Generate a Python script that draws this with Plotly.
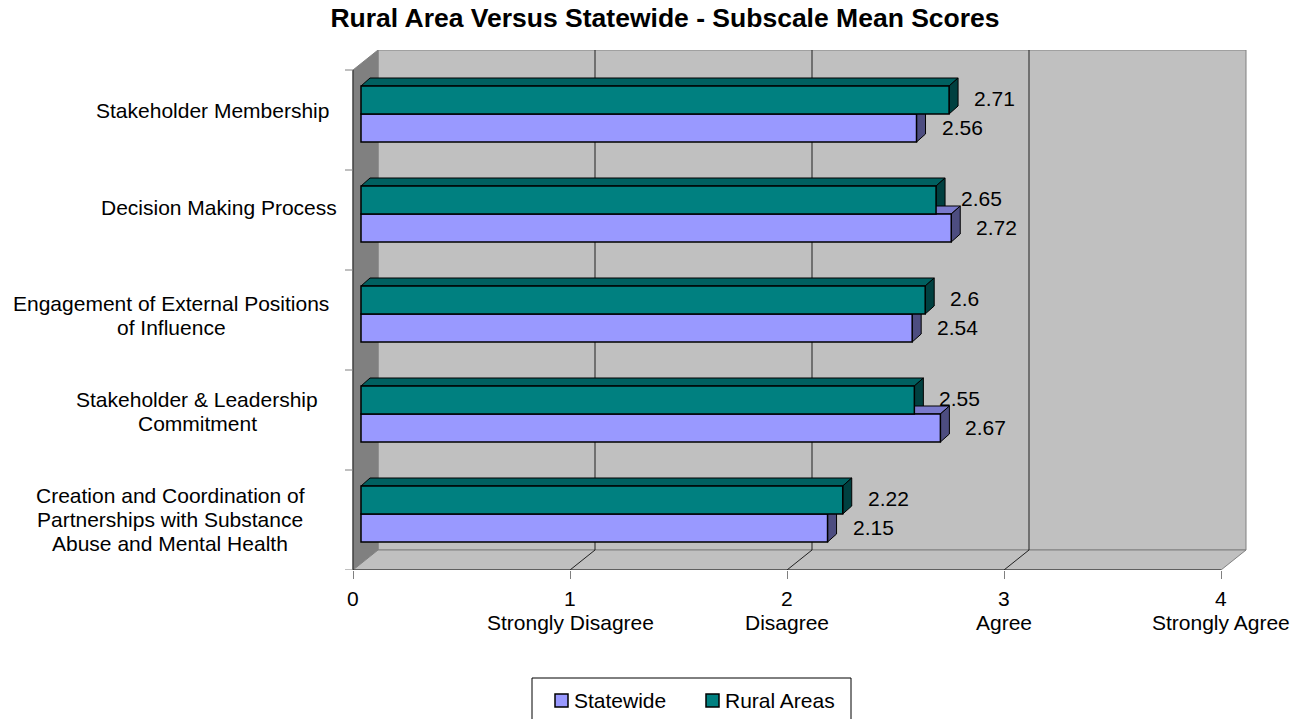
import plotly.graph_objects as go

# ---- data -------------------------------------------------------------
categories = [
    "Stakeholder Membership",
    "Decision Making Process",
    "Engagement of External Positions<br>of Influence",
    "Stakeholder & Leadership<br>Commitment",
    "Creation and Coordination of<br>Partnerships with Substance<br>Abuse and Mental Health",
]
statewide = [2.56, 2.72, 2.54, 2.67, 2.15]
rural_areas = [2.71, 2.65, 2.60, 2.55, 2.22]
scale_values = [0, 1, 2, 3, 4]
scale_labels = ["", "Strongly Disagree", "Disagree", "Agree", "Strongly Agree"]
series_names = ["Statewide", "Rural Areas"]

# ---- layout geometry (pixels of the 1297x719 page) ---------------------
W, H = 1297, 719
X0, U = 361.0, 217.0     # pixel of value 0 on the bar plane, pixels per unit
Y0, V = 114.0, 100.0     # pixel of the first category centre, pixels per category
FRONT_X, BACK_X = 353.0, 378.0
FRONT_Y, BACK_Y = 570.0, 550.0
TOP_BACK, TOP_FRONT = 50.0, 70.0
PLOT_L, PLOT_R = 339.0, 1275.0
BAR_W = 0.28
BAR_DX, BAR_DY = 9.0 / U, 8.0 / V

FONT = "Liberation Sans, Arial, sans-serif"
TEAL, TEAL_TOP, TEAL_SIDE = "#008080", "#006060", "#004040"
LILAC, LILAC_TOP, LILAC_SIDE = "#9999FF", "#7A7ACC", "#4D4D80"


def X(px):
    return (px - X0) / U


def Y(py):
    return (py - Y0) / V


def PX(px):
    """page pixel -> paper x"""
    return (px - PLOT_L) / (PLOT_R - PLOT_L)


def PY(py):
    """page pixel -> paper y"""
    return (FRONT_Y - py) / (FRONT_Y - TOP_BACK)


def path_px(points):
    return "M " + " L ".join(f"{X(a):.5f},{Y(b):.5f}" for a, b in points) + " Z"


def path_data(points):
    return "M " + " L ".join(f"{a:.5f},{b:.5f}" for a, b in points) + " Z"


shapes = []


def add_path(path, fill, line="#808080", width=1):
    shapes.append(dict(type="path", path=path, xref="x", yref="y", layer="below",
                       fillcolor=fill, line=dict(color=line, width=width)))


def add_line(p0, p1, color, width=1):
    shapes.append(dict(type="line", xref="x", yref="y", layer="below",
                       x0=X(p0[0]), y0=Y(p0[1]), x1=X(p1[0]), y1=Y(p1[1]),
                       line=dict(color=color, width=width)))


n_max = scale_values[-1]
back_right = BACK_X + U * n_max
front_right = FRONT_X + U * n_max

# back wall, side wall and floor of the 3-D box
add_path(path_px([(BACK_X, TOP_BACK), (back_right, TOP_BACK),
                  (back_right, BACK_Y), (BACK_X, BACK_Y)]), "#C0C0C0")
add_path(path_px([(FRONT_X, TOP_FRONT), (BACK_X, TOP_BACK),
                  (BACK_X, BACK_Y), (FRONT_X, FRONT_Y)]), "#808080")
add_path(path_px([(FRONT_X, FRONT_Y), (BACK_X, BACK_Y),
                  (back_right, BACK_Y), (front_right, FRONT_Y)]), "#C0C0C0")

# gridlines on the back wall and across the floor
for v in scale_values[1:-1]:
    add_line((BACK_X + U * v, TOP_BACK), (BACK_X + U * v, BACK_Y), "#202020")
    add_line((FRONT_X + U * v, FRONT_Y), (BACK_X + U * v, BACK_Y), "#202020")

# value axis along the front edge, category axis on the left
add_line((FRONT_X, FRONT_Y), (front_right, FRONT_Y), "#202020")
add_line((FRONT_X, TOP_FRONT), (FRONT_X, FRONT_Y), "#202020")
for k in range(len(categories) + 1):
    yk = TOP_FRONT + V * k
    add_line((FRONT_X - 8, yk), (FRONT_X, yk), "#808080")

# depth faces of every bar
for i, (s, r) in enumerate(zip(statewide, rural_areas)):
    for val, yc, top_c, side_c in ((r, i - BAR_W / 2, TEAL_TOP, TEAL_SIDE),
                                   (s, i + BAR_W / 2, LILAC_TOP, LILAC_SIDE)):
        yt, yb = yc - BAR_W / 2, yc + BAR_W / 2
        add_path(path_data([(0, yt), (BAR_DX, yt - BAR_DY),
                            (val + BAR_DX, yt - BAR_DY), (val, yt)]), top_c, "#000000")
        add_path(path_data([(val, yt), (val + BAR_DX, yt - BAR_DY),
                            (val + BAR_DX, yb - BAR_DY), (val, yb)]), side_c, "#000000")

idx = list(range(len(categories)))
fig = go.Figure()
fig.add_trace(go.Bar(
    name=series_names[0], orientation="h", x=statewide,
    y=[i + BAR_W / 2 for i in idx], width=BAR_W, base=0,
    marker=dict(color=LILAC, line=dict(color="#000000", width=1.5)),
    hoverinfo="x",
))
fig.add_trace(go.Bar(
    name=series_names[1], orientation="h", x=rural_areas,
    y=[i - BAR_W / 2 for i in idx], width=BAR_W, base=0,
    marker=dict(color=TEAL, line=dict(color="#000000", width=1.5)),
    hoverinfo="x",
))

annotations = []
txt = dict(family=FONT, size=21, color="#000000")

# value labels beside the bars
for i, (s, r) in enumerate(zip(statewide, rural_areas)):
    for val, yc in ((r, i - BAR_W / 2 - 0.02), (s, i + BAR_W / 2 - 0.01)):
        annotations.append(dict(x=val + 23 / U, y=yc, xref="x", yref="y",
                                text=f"{val:g}", showarrow=False, xanchor="left",
                                yanchor="middle", font=txt))

# category labels, centred lines with a 24 px line pitch
label_centres = [(212, 110), (219, 207), (171, 315), (197, 411), (170, 519)]
for name, (cx, cy) in zip(categories, label_centres):
    lines = name.split("<br>")
    for j, line in enumerate(lines):
        ly = cy + 24 * (j - (len(lines) - 1) / 2)
        annotations.append(dict(x=PX(cx), y=PY(ly), xref="paper", yref="paper",
                                text=line, showarrow=False, xanchor="center",
                                yanchor="middle", font=txt))

# value axis labels: number on the first row, wording on the second
for v, word in zip(scale_values, scale_labels):
    xv = PX(FRONT_X + U * v)
    annotations.append(dict(x=xv, y=PY(598), xref="paper", yref="paper", text=str(v),
                            showarrow=False, xanchor="center", yanchor="middle", font=txt))
    if word:
        annotations.append(dict(x=xv, y=PY(622), xref="paper", yref="paper", text=word,
                                showarrow=False, xanchor="center", yanchor="middle",
                                font=txt))

# boxed legend below the chart
LEG_L, LEG_R, LEG_T, LEG_B = 532, 851, 678, 730
shapes.append(dict(type="rect", xref="paper", yref="paper", layer="above",
                   x0=PX(LEG_L), x1=PX(LEG_R), y0=PY(LEG_T), y1=PY(LEG_B),
                   fillcolor="rgba(0,0,0,0)", line=dict(color="#000000", width=1)))
legend_items = [(series_names[0], LILAC, 555), (series_names[1], TEAL, 706)]
for name, color, sx in legend_items:
    shapes.append(dict(type="rect", xref="paper", yref="paper", layer="above",
                       x0=PX(sx), x1=PX(sx + 13), y0=PY(694), y1=PY(707),
                       fillcolor=color, line=dict(color="#000000", width=1.5)))
    annotations.append(dict(x=PX(sx + 17), y=PY(700), xref="paper", yref="paper",
                            text=name, showarrow=False, xanchor="left",
                            yanchor="middle", font=txt))

fig.update_layout(
    width=W, height=H,
    margin=dict(l=PLOT_L, r=W - PLOT_R, t=TOP_BACK, b=H - FRONT_Y),
    paper_bgcolor="#FFFFFF", plot_bgcolor="#FFFFFF",
    barmode="overlay",
    title=dict(text="<b>Rural Area Versus Statewide - Subscale Mean Scores</b>",
               x=665 / W, xanchor="center", xref="container",
               y=1 - 18 / H, yanchor="middle", yref="container",
               font=dict(family=FONT, size=26.5, color="#000000")),
    xaxis=dict(range=[X(PLOT_L), X(PLOT_R)], showgrid=False, zeroline=False,
               showline=False, showticklabels=False, ticks="outside", ticklen=8,
               tickcolor="#808080", tickwidth=1,
               tickvals=[X(FRONT_X + U * v) for v in scale_values], fixedrange=True),
    yaxis=dict(range=[Y(FRONT_Y), Y(TOP_BACK)], showgrid=False, zeroline=False,
               showline=False, showticklabels=False, ticks="", fixedrange=True),
    shapes=shapes,
    annotations=annotations,
    showlegend=False,
)

fig.write_html("out.html")
